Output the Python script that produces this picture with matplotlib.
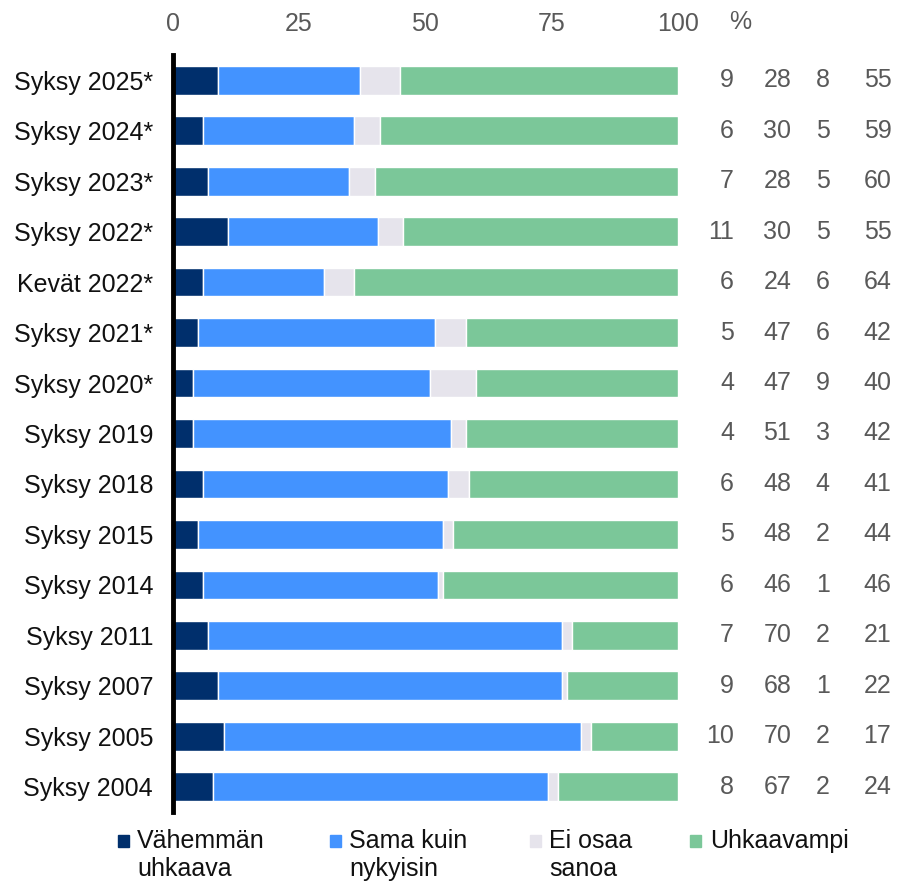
import matplotlib.pyplot as plt
from matplotlib.patches import Rectangle

plt.rcParams['font.family'] = ['Liberation Sans', 'DejaVu Sans']

# rows, top to bottom
periods = ['Syksy 2025*', 'Syksy 2024*', 'Syksy 2023*', 'Syksy 2022*', 'Kevät 2022*',
           'Syksy 2021*', 'Syksy 2020*', 'Syksy 2019', 'Syksy 2018', 'Syksy 2015',
           'Syksy 2014', 'Syksy 2011', 'Syksy 2007', 'Syksy 2005', 'Syksy 2004']
less = [9, 6, 7, 11, 6, 5, 4, 4, 6, 5, 6, 7, 9, 10, 8]
same = [28, 30, 28, 30, 24, 47, 47, 51, 48, 48, 46, 70, 68, 70, 67]
dont_know = [8, 5, 5, 5, 6, 6, 9, 3, 4, 2, 1, 2, 1, 2, 2]
more = [55, 59, 60, 55, 64, 42, 40, 42, 41, 44, 46, 21, 22, 17, 24]

series_names = ['Vähemmän\nuhkaava', 'Sama kuin\nnykyisin', 'Ei osaa\nsanoa', 'Uhkaavampi']
colors = ['#002f6c', '#4393ff', '#e6e4ec', '#7bc799']
xticks = [0, 25, 50, 75, 100]

W, H = 897, 890
fig = plt.figure(figsize=(W / 100, H / 100), dpi=100)
ax = fig.add_axes([172.5 / W, 1 - 812 / H, 505.5 / W, (812 - 55) / H])

series = [less, same, dont_know, more]
rows = range(len(periods))
totals = [sum(s[i] for s in series) for i in rows]
left = [0.0] * len(periods)
for vals, col in zip(series, colors):
    # bars drawn as share of the row total so each row ends at 100
    w = [v / t * 100 for v, t in zip(vals, totals)]
    ax.barh(list(rows), w, left=left, height=0.57, color=col,
            edgecolor='white', linewidth=1)
    left = [a + b for a, b in zip(left, w)]

# value columns on the right
col_x = [111.1, 122.4, 130.0, 142.2]
for vals, cx in zip(series, col_x):
    for i, v in enumerate(vals):
        ax.text(cx, i, str(v), ha='right', va='center', fontsize=18,
                color='#595959', clip_on=False)

ax.set_xlim(0, 100)
ax.set_ylim(len(periods) - 1 + 0.5, -0.5)
ax.set_yticks(list(rows))
ax.set_yticklabels(periods, fontsize=18, color='#111111')
ax.xaxis.tick_top()
ax.set_xticks(xticks)
ax.set_xticklabels([str(t) for t in xticks], fontsize=18, color='#595959')
ax.tick_params(length=0)
ax.tick_params(axis='y', pad=14)
ax.tick_params(axis='x', pad=14)
fig.text(740 / W, 1 - 22 / H, '%', ha='center', va='center', fontsize=18,
         color='#595959')
for s in ['top', 'right', 'bottom']:
    ax.spines[s].set_visible(False)
ax.spines['left'].set_linewidth(3.5)
ax.spines['left'].set_color('black')

# legend, drawn by hand
leg_sq_x = [118, 330, 530, 690]
leg_txt_x = [137, 349, 549, 710]
for name, col, sx, tx in zip(series_names, colors, leg_sq_x, leg_txt_x):
    fig.add_artist(Rectangle((sx / W, 1 - 847 / H), 11 / W, 12 / H,
                             transform=fig.transFigure, color=col))
    fig.text(tx / W, 1 - 829 / H, name, ha='left', va='top', fontsize=18,
             color='#111111', linespacing=1.2)

fig.savefig('out.png', dpi=100)
